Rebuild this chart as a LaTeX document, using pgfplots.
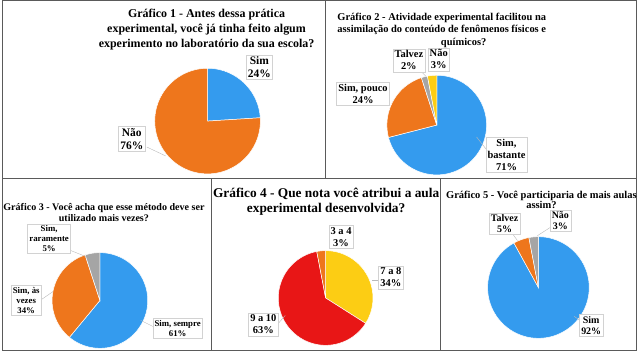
\documentclass[border=0pt]{standalone}
\usepackage{pgfplots}
\pgfplotsset{compat=1.18}
\usepackage{fontspec}
\setmainfont{Liberation Serif}
\definecolor{pblue}{RGB}{52,155,238}
\definecolor{porange}{RGB}{238,118,28}
\definecolor{pgray}{RGB}{165,165,165}
\definecolor{pyellow}{RGB}{252,205,20}
\definecolor{pred}{RGB}{232,22,22}
\definecolor{frame}{RGB}{90,90,90}
\tikzset{
  lab/.style 2 args={draw=gray!35, fill=white, align=center, inner sep=1.8pt,
    font=\bfseries\fontsize{#1}{#2}\selectfont},
  lead/.style={draw=gray!55, line width=0.4pt},
}
% slice: cx, cy, r, start (%), share (%), colour; drawn clockwise from 12 o'clock
\newcommand{\slice}[6]{%
  \addplot[fill=#6, draw=white, line width=0.5pt, domain={-90+3.6*#4}:{-90+3.6*(#4+#5)}, samples=80, variable=\t]
    ({#1+#3*cos(\t)},{#2+#3*sin(\t)}) -- (#1,#2) -- cycle;%
}
\begin{document}
\begin{tikzpicture}
\begin{axis}[
  width=640pt, height=353pt, scale only axis,
  xmin=0, xmax=640, ymin=0, ymax=353, y dir=reverse,
  hide axis, clip=false,
]
% frames
\draw[frame, line width=1pt] (1,1) rectangle (637,352);
\draw[frame, line width=1pt] (1,180) -- (637,180);
\draw[frame, line width=1pt] (325,1) -- (325,180);
\draw[frame, line width=1pt] (211,180) -- (211,352);
\draw[frame, line width=1pt] (441,180) -- (441,352);

% ---------- Grafico 1 ----------
\slice{207}{122}{53}{0}{24}{pblue}
\slice{207}{122}{53}{24}{76}{porange}
\node[align=center, font=\bfseries\fontsize{12}{15}\selectfont] at (206,30)
  {Gráfico 1 - Antes dessa prática\\experimental, você já tinha feito algum\\experimento no laboratório da sua escola?};
\draw[lead] (146,148) -- (165,157);
\node[lab={11.5}{13}] at (259,68) {Sim\\24\%};
\node[lab={11.5}{13}] at (131,140) {Não\\76\%};

% ---------- Grafico 2 ----------
\slice{437}{126}{50}{0}{71}{pblue}
\slice{437}{126}{50}{71}{24}{porange}
\slice{437}{126}{50}{95}{2}{pgray}
\slice{437}{126}{50}{97}{3}{pyellow}
\node[align=center, font=\bfseries\fontsize{10.5}{12.5}\selectfont] at (442,24.5)
  {Gráfico 2 - Atividade experimental facilitou na\\assimilação do conteúdo de fenômenos físicos e};
\node[font=\bfseries\fontsize{10.5}{12.5}\selectfont] at (464,43.5) {químicos?};
\draw[lead] (488,152) -- (477,138);
\draw[lead] (421,72) -- (426,77);
\node[lab={10.5}{12}] at (409,61) {Talvez\\2\%};
\node[lab={10.5}{12}] at (439,60) {Não\\3\%};
\node[lab={10.5}{12}] at (363,95) {Sim, pouco\\24\%};
\node[lab={10.5}{12}] at (507,156) {Sim,\\bastante\\71\%};

% ---------- Grafico 3 ----------
\slice{99}{302}{48}{0}{61}{pblue}
\slice{99}{302}{48}{61}{34}{porange}
\slice{99}{302}{48}{95}{5}{pgray}
\node[align=center, font=\bfseries\fontsize{10.1}{11}\selectfont] at (103,213.5)
  {Gráfico 3 - Você acha que esse método deve ser\\utilizado mais vezes?};
\draw[lead] (70,252) -- (85,258);
\draw[lead] (39,302) -- (52,293);
\draw[lead] (152,328) -- (140,322);
\node[lab={8.8}{10}] at (48,240) {Sim,\\raramente\\5\%};
\node[lab={8.8}{10}] at (25,302) {Sim, às\\vezes\\34\%};
\node[lab={8.8}{10}] at (177,330) {Sim, sempre\\61\%};

% ---------- Grafico 4 ----------
\slice{325.5}{299.5}{47.5}{0}{34}{pyellow}
\slice{325.5}{299.5}{47.5}{34}{63}{pred}
\slice{325.5}{299.5}{47.5}{97}{3}{porange}
\node[align=center, font=\bfseries\fontsize{13.4}{14.5}\selectfont] at (326,203)
  {Gráfico 4 - Que nota você atribui a aula\\experimental desenvolvida?};
\draw[lead] (278,325) -- (285,317);
\draw[lead] (378,282) -- (372,282);
\node[lab={10.5}{12}] at (341,238) {3 a 4\\3\%};
\node[lab={10.5}{12}] at (391,279) {7 a 8\\34\%};
\node[lab={10.5}{12}] at (263,326) {9 a 10\\63\%};

% ---------- Grafico 5 ----------
\slice{539}{289}{51}{0}{92}{pblue}
\slice{539}{289}{51}{92}{5}{porange}
\slice{539}{289}{51}{97}{3}{pgray}
\node[align=center, font=\bfseries\fontsize{10.5}{10.5}\selectfont] at (542,201)
  {Gráfico 5 - Você participaria de mais aulas\\assim?};
\draw[lead] (513,235) -- (518,242);
\draw[lead] (552,228) -- (538,237);
\draw[lead] (582,323) -- (575,318);
\node[lab={10}{11}] at (505,225) {Talvez\\5\%};
\node[lab={10}{11}] at (561,222) {Não\\3\%};
\node[lab={10}{11}] at (592,327) {Sim\\92\%};
\end{axis}
\end{tikzpicture}
\end{document}
